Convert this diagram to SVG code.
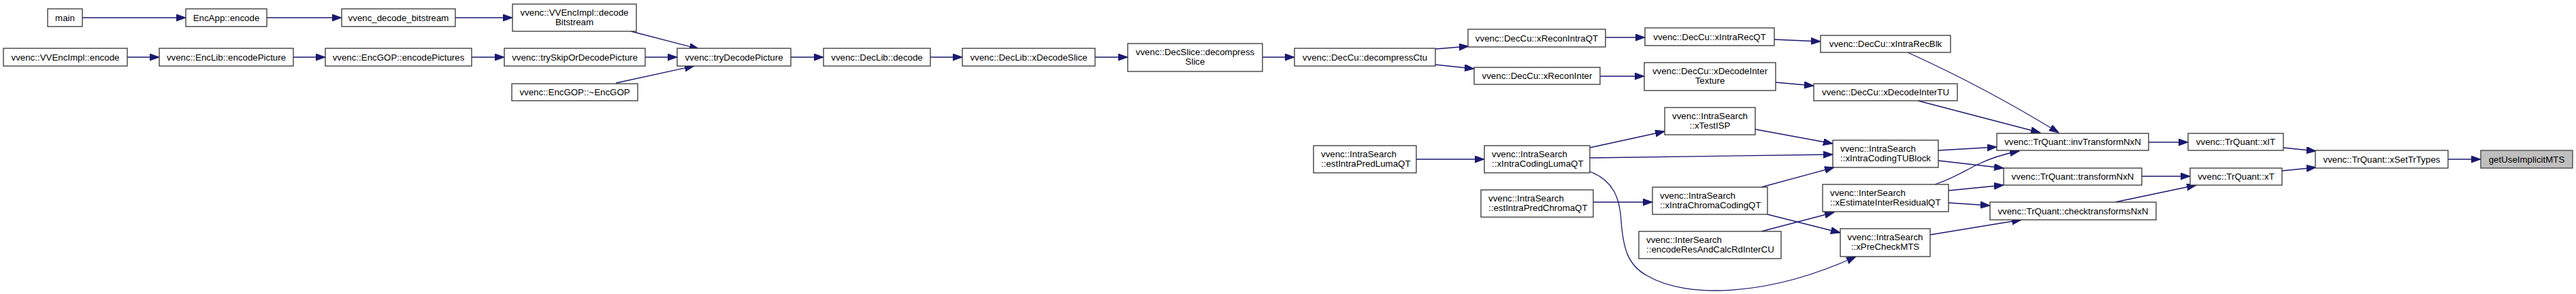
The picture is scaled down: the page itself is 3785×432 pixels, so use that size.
<svg xmlns="http://www.w3.org/2000/svg" width="3785" height="432" viewBox="0 0 3785 432">
<style>
.n rect{fill:#ffffff;stroke:#333333;stroke-width:1.3}
.n.hl rect{fill:#bfbfbf;stroke:#404040}
.n text{font-family:"Liberation Sans",Arial,sans-serif;font-size:13.3px;fill:#000000;text-anchor:middle}
.n text.l{text-anchor:start}
#edges path{fill:none;stroke:#191970;stroke-width:1.3;marker-end:url(#arr)}
</style>
<defs>
<marker id="arr" markerUnits="userSpaceOnUse" markerWidth="15" markerHeight="11" refX="14" refY="5" orient="auto">
<path d="M0,0 L14,5 L0,10 z" fill="#191970" stroke="#191970" stroke-width="1"/>
</marker>
</defs>
<rect width="3785" height="432" fill="#ffffff"/>
<g id="edges">
<path d="M121,26 L273,26"/>
<path d="M392,26 L502,26"/>
<path d="M669,26 L753,26"/>
<path d="M927,46 L1027,72"/>
<path d="M187,84 L234,84"/>
<path d="M431,84 L478,84"/>
<path d="M693,84 L741,84"/>
<path d="M948,84 L995,84"/>
<path d="M905,122 L1020,97"/>
<path d="M1162,84 L1210,84"/>
<path d="M1367,84 L1414,84"/>
<path d="M1609,84 L1657,84"/>
<path d="M1855,84 L1902,84"/>
<path d="M2109,72 L2158,68"/>
<path d="M2109,95 L2166,101"/>
<path d="M2359,55 L2417,55"/>
<path d="M2351,112 L2416,112"/>
<path d="M2607,58 L2675,61"/>
<path d="M2609,121 L2665,126"/>
<path d="M2803,77 C2880,112 2960,155 3025,195"/>
<path d="M2818,148 L2998,195"/>
<path d="M2081,234 L2181,234"/>
<path d="M2336,217 L2446,193"/>
<path d="M2336,232 L2693,227"/>
<path d="M2579,190 L2693,211"/>
<path d="M2336,252 C2370,265 2380,290 2382,325 C2385,365 2392,390 2420,405 C2480,440 2600,435 2727,377"/>
<path d="M2341,297 L2428,297"/>
<path d="M2588,275 L2695,246"/>
<path d="M2597,315 L2704,342"/>
<path d="M2588,340 L2695,312"/>
<path d="M2848,221 L2934,216"/>
<path d="M2848,236 L2944,247"/>
<path d="M2843,271 C2870,262 2885,252 2903,243 C2925,232 2945,226 2967,222"/>
<path d="M2863,280 L2944,272"/>
<path d="M2863,298 L2924,302"/>
<path d="M2836,345 L2970,323"/>
<path d="M3157,209 L3215,209"/>
<path d="M3147,259 L3218,259"/>
<path d="M3108,297 L3227,272"/>
<path d="M3355,217 L3403,222"/>
<path d="M3353,251 L3403,246"/>
<path d="M3597,234 L3645,234"/>
</g>
<g id="n_main" class="n"><rect x="70" y="13" width="51" height="26"/><text x="95.5" y="30.5">main</text></g>
<g id="n_encapp" class="n"><rect x="273" y="13" width="119" height="26"/><text x="332.5" y="30.5">EncApp::encode</text></g>
<g id="n_decbits" class="n"><rect x="502" y="13" width="167" height="26"/><text x="585.5" y="30.5">vvenc_decode_bitstream</text></g>
<g id="n_implDecode" class="n"><rect x="753" y="6" width="182" height="40"/><text x="844" y="22.5">vvenc::VVEncImpl::decode</text><text x="844" y="36.5">Bitstream</text></g>
<g id="n_implEncode" class="n"><rect x="5" y="71" width="182" height="26"/><text x="96" y="88.5">vvenc::VVEncImpl::encode</text></g>
<g id="n_encPic" class="n"><rect x="234" y="71" width="197" height="26"/><text x="332.5" y="88.5">vvenc::EncLib::encodePicture</text></g>
<g id="n_encPics" class="n"><rect x="478" y="71" width="215" height="26"/><text x="585.5" y="88.5">vvenc::EncGOP::encodePictures</text></g>
<g id="n_trySkip" class="n"><rect x="741" y="71" width="207" height="26"/><text x="844.5" y="88.5">vvenc::trySkipOrDecodePicture</text></g>
<g id="n_dtor" class="n"><rect x="752" y="123" width="185" height="25"/><text x="844.5" y="140">vvenc::EncGOP::~EncGOP</text></g>
<g id="n_tryDec" class="n"><rect x="995" y="71" width="167" height="26"/><text x="1078.5" y="88.5">vvenc::tryDecodePicture</text></g>
<g id="n_declibDecode" class="n"><rect x="1210" y="71" width="157" height="26"/><text x="1288.5" y="88.5">vvenc::DecLib::decode</text></g>
<g id="n_xDecSlice" class="n"><rect x="1414" y="71" width="195" height="26"/><text x="1511.5" y="88.5">vvenc::DecLib::xDecodeSlice</text></g>
<g id="n_decompSlice" class="n"><rect x="1657" y="64" width="198" height="41"/><text x="1756" y="81">vvenc::DecSlice::decompress</text><text x="1756" y="95">Slice</text></g>
<g id="n_decompCtu" class="n"><rect x="1902" y="71" width="207" height="26"/><text x="2005.5" y="88.5">vvenc::DecCu::decompressCtu</text></g>
<g id="n_reconIntraQT" class="n"><rect x="2157" y="43" width="202" height="26"/><text x="2258" y="60.5">vvenc::DecCu::xReconIntraQT</text></g>
<g id="n_reconInter" class="n"><rect x="2166" y="99" width="185" height="25"/><text x="2258.5" y="116">vvenc::DecCu::xReconInter</text></g>
<g id="n_estLuma" class="n"><rect x="1930" y="214" width="151" height="40"/><text class="l" x="1941" y="230.5">vvenc::IntraSearch</text><text class="l" x="1941" y="245">::estIntraPredLumaQT</text></g>
<g id="n_codLuma" class="n"><rect x="2181" y="214" width="155" height="40"/><text class="l" x="2192" y="230.5">vvenc::IntraSearch</text><text class="l" x="2192" y="245">::xIntraCodingLumaQT</text></g>
<g id="n_estChroma" class="n"><rect x="2176" y="279" width="165" height="40"/><text class="l" x="2187" y="295.5">vvenc::IntraSearch</text><text class="l" x="2187" y="310">::estIntraPredChromaQT</text></g>
<g id="n_intraRecQT" class="n"><rect x="2417" y="41" width="190" height="26"/><text x="2512" y="58.5">vvenc::DecCu::xIntraRecQT</text></g>
<g id="n_decInterTex" class="n"><rect x="2416" y="92" width="193" height="41"/><text x="2512.5" y="109">vvenc::DecCu::xDecodeInter</text><text x="2512.5" y="123">Texture</text></g>
<g id="n_testISP" class="n"><rect x="2446" y="158" width="133" height="40"/><text x="2512.5" y="174.5">vvenc::IntraSearch</text><text x="2512.5" y="189">::xTestISP</text></g>
<g id="n_chromaQT" class="n"><rect x="2428" y="275" width="169" height="40"/><text class="l" x="2439" y="291.5">vvenc::IntraSearch</text><text class="l" x="2439" y="306">::xIntraChromaCodingQT</text></g>
<g id="n_encRes" class="n"><rect x="2408" y="340" width="209" height="40"/><text class="l" x="2419" y="356.5">vvenc::InterSearch</text><text class="l" x="2419" y="371">::encodeResAndCalcRdInterCU</text></g>
<g id="n_intraRecBlk" class="n"><rect x="2675" y="52" width="191" height="25"/><text x="2770.5" y="69">vvenc::DecCu::xIntraRecBlk</text></g>
<g id="n_decInterTU" class="n"><rect x="2665" y="123" width="211" height="25"/><text x="2770.5" y="140">vvenc::DecCu::xDecodeInterTU</text></g>
<g id="n_tuBlock" class="n"><rect x="2693" y="206" width="155" height="40"/><text class="l" x="2704" y="222.5">vvenc::IntraSearch</text><text class="l" x="2704" y="237">::xIntraCodingTUBlock</text></g>
<g id="n_estInterRes" class="n"><rect x="2678" y="271" width="185" height="40"/><text class="l" x="2689" y="287.5">vvenc::InterSearch</text><text class="l" x="2689" y="302">::xEstimateInterResidualQT</text></g>
<g id="n_preCheck" class="n"><rect x="2704" y="336" width="132" height="41"/><text x="2770" y="353">vvenc::IntraSearch</text><text x="2770" y="367">::xPreCheckMTS</text></g>
<g id="n_invTr" class="n"><rect x="2934" y="196" width="223" height="25"/><text x="3045.5" y="213">vvenc::TrQuant::invTransformNxN</text></g>
<g id="n_tr" class="n"><rect x="2944" y="247" width="203" height="25"/><text x="3045.5" y="264">vvenc::TrQuant::transformNxN</text></g>
<g id="n_checkTr" class="n"><rect x="2924" y="297" width="244" height="26"/><text x="3046" y="314.5">vvenc::TrQuant::checktransformsNxN</text></g>
<g id="n_xIT" class="n"><rect x="3215" y="196" width="140" height="25"/><text x="3285" y="213">vvenc::TrQuant::xIT</text></g>
<g id="n_xT" class="n"><rect x="3218" y="247" width="135" height="25"/><text x="3285.5" y="264">vvenc::TrQuant::xT</text></g>
<g id="n_setTr" class="n"><rect x="3402" y="221" width="195" height="26"/><text x="3499.5" y="238.5">vvenc::TrQuant::xSetTrTypes</text></g>
<g id="n_target" class="n hl"><rect x="3645" y="221" width="135" height="26"/><text x="3712.5" y="238.5">getUseImplicitMTS</text></g>
</svg>
